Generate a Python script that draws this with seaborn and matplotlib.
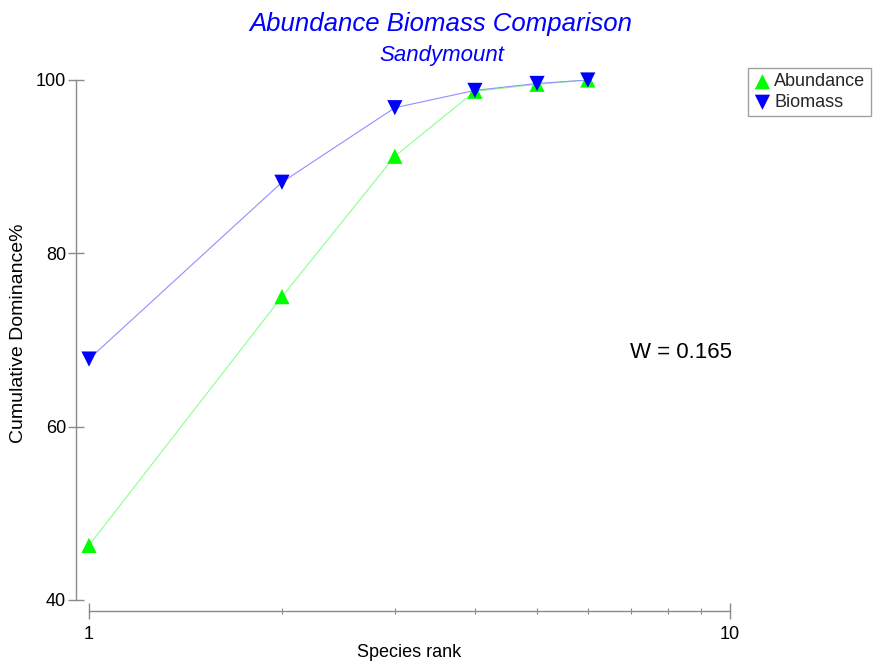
import matplotlib
matplotlib.use("Agg")
import matplotlib.pyplot as plt
import matplotlib.ticker as mticker
import seaborn as sns
import pandas as pd

# Cumulative dominance curves (k-dominance) for Sandymount
species_rank = [1, 2, 3, 4, 5, 6]
abundance = [46.3, 75.0, 91.2, 98.7, 99.5, 100.0]
biomass = [67.8, 88.2, 96.8, 98.8, 99.6, 100.0]
w_statistic = 0.165

df = pd.concat([
    pd.DataFrame({"rank": species_rank, "pct": abundance, "series": "Abundance"}),
    pd.DataFrame({"rank": species_rank, "pct": biomass, "series": "Biomass"}),
])

sns.set_theme(style="white")
plt.rcParams["font.family"] = ["Liberation Sans", "DejaVu Sans"]

W, H = 875, 664
fig = plt.figure(figsize=(W / 100, H / 100), dpi=100)
ax = fig.add_axes([89 / W, 1 - 600 / H, (730 - 89) / W, (600 - 80) / H])

line_col = {"Abundance": "#8cff8c", "Biomass": "#9090ff"}
mark_col = {"Abundance": "#00ff00", "Biomass": "#0000ff"}
mark_shape = {"Abundance": "^", "Biomass": "v"}

for name in ["Abundance", "Biomass"]:
    sub = df[df["series"] == name]
    sns.lineplot(data=sub, x="rank", y="pct", ax=ax, color=line_col[name],
                 lw=0.8, legend=False, zorder=2)
for name in ["Abundance", "Biomass"]:
    sub = df[df["series"] == name]
    sns.scatterplot(data=sub, x="rank", y="pct", ax=ax, marker=mark_shape[name],
                    color=mark_col[name], s=120, edgecolor="none",
                    label=name, zorder=3, clip_on=False)

ax.set_xscale("log")
ax.set_xlim(1, 10)
ax.set_ylim(40, 100)
ax.xaxis.set_major_locator(mticker.FixedLocator([1, 10]))
ax.xaxis.set_major_formatter(mticker.FixedFormatter(["1", "10"]))
ax.xaxis.set_minor_locator(mticker.FixedLocator([2, 3, 4, 5, 6, 7, 8, 9]))
ax.xaxis.set_minor_formatter(mticker.NullFormatter())
ax.yaxis.set_major_locator(mticker.FixedLocator([40, 60, 80, 100]))

for s in ["top", "right"]:
    ax.spines[s].set_visible(False)
ax.spines["left"].set_position(("outward", 9.4))
ax.spines["bottom"].set_position(("outward", 8.0))
for s in ["left", "bottom"]:
    ax.spines[s].set_color("#8a8a8a")
    ax.spines[s].set_linewidth(1.0)

ax.tick_params(axis="y", which="major", direction="inout", length=12, width=1,
               color="#8a8a8a", labelsize=13, labelcolor="black", pad=1, left=True)
ax.tick_params(axis="x", which="major", direction="inout", length=11, width=1,
               color="#8a8a8a", labelsize=13, labelcolor="black", pad=5, bottom=True)
ax.tick_params(axis="x", which="minor", direction="inout", length=5, width=0.8,
               color="#8a8a8a", bottom=True)

ax.set_xlabel("Species rank", fontsize=13, color="black", labelpad=1)
ax.set_ylabel("Cumulative Dominance%", fontsize=14, color="black")
ax.yaxis.set_label_coords((27 - 89) / (730 - 89), (600 - 333) / 520)

fig.text(441 / W, 1 - 24 / H, "Abundance Biomass Comparison", ha="center", va="center",
         fontsize=18.5, style="italic", color="#0000ff")
fig.text(442 / W, 1 - 55 / H, "Sandymount", ha="center", va="center",
         fontsize=16, style="italic", color="#0000ff")

fig.text(681 / W, 1 - 353 / H, f"W = {w_statistic:.3f}", ha="center", va="center",
         fontsize=16, color="black")

leg = ax.legend(loc="upper left", bbox_to_anchor=(748 / W, 1 - 68 / H),
                bbox_transform=fig.transFigure, frameon=True, fancybox=False,
                fontsize=13, handletextpad=0.15, handlelength=1.0,
                borderpad=0.3, labelspacing=0.2, borderaxespad=0)
leg.get_frame().set_edgecolor("#8a8a8a")
leg.get_frame().set_linewidth(1.0)

fig.savefig("out.png", dpi=100)
